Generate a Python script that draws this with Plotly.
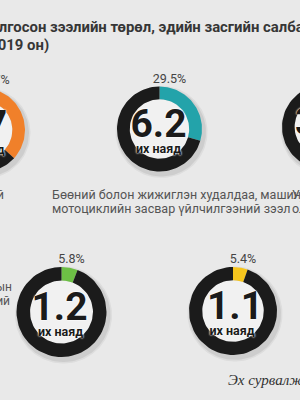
import numpy as np
import plotly.graph_objects as go

# ---------------- data ----------------
amounts = ["7.7", "6.2", "3.1", "1.2", "1.1"]          # их наяд (trillion MNT)
shares = [36.7, 29.5, 15.0, 5.8, 5.4]                   # % of total loans
share_labels = ["36.7%", "29.5%", "15.0%", "5.8%", "5.4%"]
seg_colors = ["#f0802a", "#23a3aa", "#8e5ba6", "#6dbf45", "#f6c51d"]
unit = "их наяд"
descriptions = [
    ["Хувь хүний", "зээл"],
    ["Бөөний болон жижиглэн худалдаа, машин,", "мотоциклийн засвар үйлчилгээний зээл"],
    ["Уул уурхай,", "олборлох үйлдвэрлэлийн зээл"],
]
side_note = ["Хөдөө аж ахуйн салбарын", "зээл болон бусад хэрэглээний"]
title_l1 = "олгосон зээлийн төрөл, эдийн засгийн салбараар"
title_l2 = "(2019 он)"
source = "Эх сурвалж: Монголбанк"

# ---------------- layout (positions) ----------------
W, H = 300, 400
centers = [(-17, 130), (159.5, 129), (324, 127), (61.5, 312), (233, 311)]
radii = [42, 42.5, 42, 45, 44]
num_dx = [-4, -1, -1, -2, 2]
desc_x = [None, 52, 292]
ring_frac = 0.30
BG = "#e9e9e9"
RING = "#1b1b1b"
SANS = "Roboto, sans-serif"
NARROW = "Liberation Sans Narrow, Roboto, sans-serif"
GLOW = "0px 0px 2px #ffffff, 0px 0px 2px #ffffff"


def sector(cx, cy, r_out, r_in, a0, a1, n=80):
    t = np.radians(np.linspace(a0, a1, n))
    xo = cx + r_out * np.sin(t)
    yo = cy - r_out * np.cos(t)
    xi = cx + r_in * np.sin(t[::-1])
    yi = cy - r_in * np.cos(t[::-1])
    return np.concatenate([xo, xi, xo[:1]]), np.concatenate([yo, yi, yo[:1]])


def disc(cx, cy, r, n=120):
    t = np.radians(np.linspace(0, 360, n))
    return cx + r * np.sin(t), cy - r * np.cos(t)


fig = go.Figure()

for i, (cx, cy) in enumerate(centers):
    R = radii[i]
    r_in = R * (1 - ring_frac)
    for k, a in [(3.5, 0.05), (2.0, 0.07)]:
        xs, ys = disc(cx + 2, cy + 3, R + k)
        fig.add_trace(go.Scatter(x=xs, y=ys, fill="toself", mode="lines",
                                 line=dict(width=0), fillcolor=f"rgba(0,0,0,{a})",
                                 hoverinfo="skip", showlegend=False))
    xs, ys = disc(cx, cy, r_in)
    fig.add_trace(go.Scatter(x=xs, y=ys, fill="toself", mode="lines",
                             line=dict(width=0), fillcolor="#f1f1f1",
                             hoverinfo="skip", showlegend=False))
    ang = shares[i] / 100 * 360
    xs, ys = sector(cx, cy, R, r_in, 0, ang)
    fig.add_trace(go.Scatter(x=xs, y=ys, fill="toself", mode="lines",
                             line=dict(width=0), fillcolor=seg_colors[i],
                             hoverinfo="skip", showlegend=False))
    xs, ys = sector(cx, cy, R, r_in, ang, 360)
    fig.add_trace(go.Scatter(x=xs, y=ys, fill="toself", mode="lines",
                             line=dict(width=0), fillcolor=RING,
                             hoverinfo="skip", showlegend=False))


def label(x, y, text, size, color="#1b1b1b", family=SANS, pos="middle center",
          shadow=None):
    f = dict(family=family, size=size, color=color)
    if shadow:
        f["shadow"] = shadow
    fig.add_trace(go.Scatter(x=[x], y=[y], text=[text], mode="text",
                             textposition=pos, textfont=f, cliponaxis=True,
                             hoverinfo="skip", showlegend=False))


for i, (cx, cy) in enumerate(centers):
    R = radii[i]
    label(cx + num_dx[i], cy - 2, f"<b>{amounts[i]}</b>", 39, shadow=GLOW)
    label(cx - 1, cy + 21, f"<b>{unit}</b>", 12.5, shadow=GLOW)
    label(cx + 10, cy - R - 7, share_labels[i], 12.5, "#444444", family=NARROW)

# descriptions under the top donuts
label(4, 196, descriptions[0][0], 12.5, "#555555", family=NARROW, pos="middle left")
label(-30, 210, descriptions[0][1], 12.5, "#555555", family=NARROW, pos="middle left")
for i in (1, 2):
    label(desc_x[i], 196, descriptions[i][0], 12.5, "#555555", family=NARROW, pos="middle right")
    label(desc_x[i], 210, descriptions[i][1], 12.5, "#555555", family=NARROW, pos="middle right")

label(12, 288, side_note[0], 12, "#555555", family=NARROW, pos="middle left")
label(10, 302, side_note[1], 12, "#555555", family=NARROW, pos="middle left")

label(-9.5, 28, f"<b>{title_l1}</b>", 14.9, "#363636", pos="middle right")
label(-16, 46, f"<b>{title_l2}</b>", 14.9, "#363636", pos="middle right")

label(228, 381, f"<i>{source}</i>", 15, "#333333",
      family="Liberation Serif, DejaVu Serif, serif", pos="middle right")

fig.update_layout(
    width=W, height=H, autosize=False,
    margin=dict(l=0, r=0, t=0, b=0, autoexpand=False),
    paper_bgcolor=BG, plot_bgcolor=BG,
    xaxis=dict(range=[0, W], visible=False, fixedrange=True),
    yaxis=dict(range=[H, 0], visible=False, fixedrange=True),
    showlegend=False,
)

fig.write_html("out.html")
